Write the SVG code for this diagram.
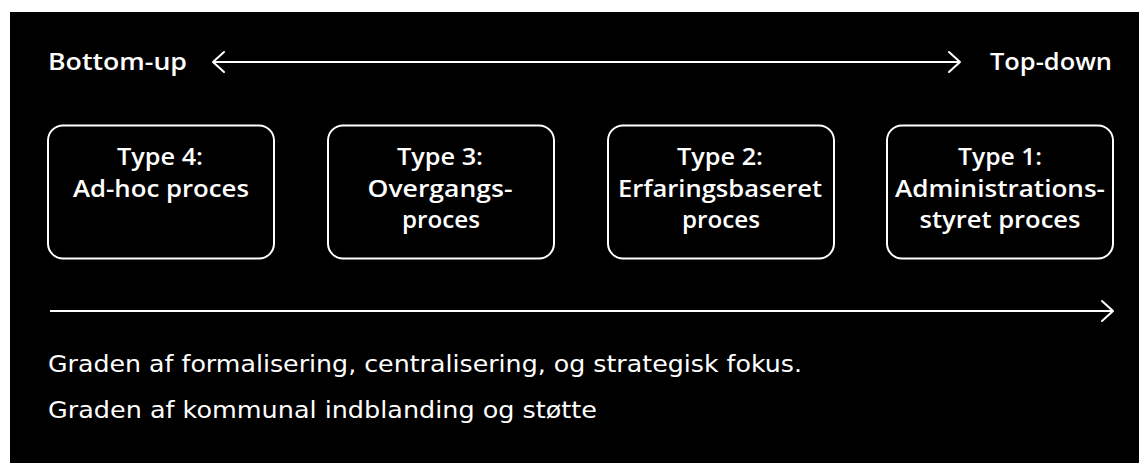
<svg xmlns="http://www.w3.org/2000/svg" width="1139" height="463" viewBox="0 0 1139 463">
  <style>
    .bg { fill: #000; }
    .box { fill: #000; stroke: #fff; stroke-width: 2; }
    .line { stroke: #fff; stroke-width: 2; fill: none; }
    .head { stroke: #fff; stroke-width: 2; fill: none; stroke-linecap: round; stroke-linejoin: round; }
    .t { fill: #fff; }
    .b { font-family: "Open Sans", "DejaVu Sans", sans-serif; font-weight: 600; font-size: 24px; }
    .lbl { font-family: "Open Sans", "DejaVu Sans", sans-serif; font-weight: 600; font-size: 23.5px; }
    .body { font-family: "DejaVu Sans", "Open Sans", sans-serif; font-weight: 400; font-size: 23px; }
  </style>
  <rect x="0" y="0" width="1139" height="463" fill="#fff"/>
  <rect class="bg" x="10" y="12" width="1129" height="451"/>

  <g id="connectors">
    <g id="axis-top">
      <line class="line" x1="214" y1="62" x2="959" y2="62"/>
      <polyline class="head" points="224,52 213,62 224,72"/>
      <polyline class="head" points="949,52 960,62 949,72"/>
    </g>
    <g id="axis-bottom">
      <line class="line" x1="50" y1="311" x2="1112" y2="311"/>
      <polyline class="head" points="1102,301 1113,311 1102,321"/>
    </g>
  </g>

  <g id="label-bottom-up">
    <text class="t lbl" x="48" y="70" textLength="139" lengthAdjust="spacingAndGlyphs">Bottom-up</text>
  </g>
  <g id="label-top-down">
    <text class="t lbl" x="990" y="70" textLength="122" lengthAdjust="spacingAndGlyphs">Top-down</text>
  </g>

  <g id="type4">
    <rect class="box" x="48" y="125.5" width="226" height="133" rx="15"/>
    <text class="t b" text-anchor="middle" x="160" y="165" textLength="86" lengthAdjust="spacingAndGlyphs">Type 4:</text>
    <text class="t b" text-anchor="middle" x="161" y="197" textLength="176" lengthAdjust="spacingAndGlyphs">Ad-hoc proces</text>
  </g>
  <g id="type3">
    <rect class="box" x="328" y="125.5" width="226" height="133" rx="15"/>
    <text class="t b" text-anchor="middle" x="440" y="165" textLength="86" lengthAdjust="spacingAndGlyphs">Type 3:</text>
    <text class="t b" text-anchor="middle" x="440" y="197" textLength="145" lengthAdjust="spacingAndGlyphs">Overgangs-</text>
    <text class="t b" text-anchor="middle" x="441" y="228" textLength="78" lengthAdjust="spacingAndGlyphs">proces</text>
  </g>
  <g id="type2">
    <rect class="box" x="608" y="125.5" width="226" height="133" rx="15"/>
    <text class="t b" text-anchor="middle" x="720" y="165" textLength="86" lengthAdjust="spacingAndGlyphs">Type 2:</text>
    <text class="t b" text-anchor="middle" x="720" y="197" textLength="204" lengthAdjust="spacingAndGlyphs">Erfaringsbaseret</text>
    <text class="t b" text-anchor="middle" x="721" y="228" textLength="78" lengthAdjust="spacingAndGlyphs">proces</text>
  </g>
  <g id="type1">
    <rect class="box" x="887" y="125.5" width="226" height="133" rx="15"/>
    <text class="t b" text-anchor="middle" x="1000" y="165" textLength="84" lengthAdjust="spacingAndGlyphs">Type 1:</text>
    <text class="t b" text-anchor="middle" x="1000" y="197" textLength="210" lengthAdjust="spacingAndGlyphs">Administrations-</text>
    <text class="t b" text-anchor="middle" x="1000" y="228" textLength="161" lengthAdjust="spacingAndGlyphs">styret proces</text>
  </g>

  <g id="captions">
    <text class="t body" x="48" y="372" textLength="754" lengthAdjust="spacingAndGlyphs">Graden af formalisering, centralisering, og strategisk fokus.</text>
    <text class="t body" x="48" y="418" textLength="549" lengthAdjust="spacingAndGlyphs">Graden af kommunal indblanding og støtte</text>
  </g>
</svg>
